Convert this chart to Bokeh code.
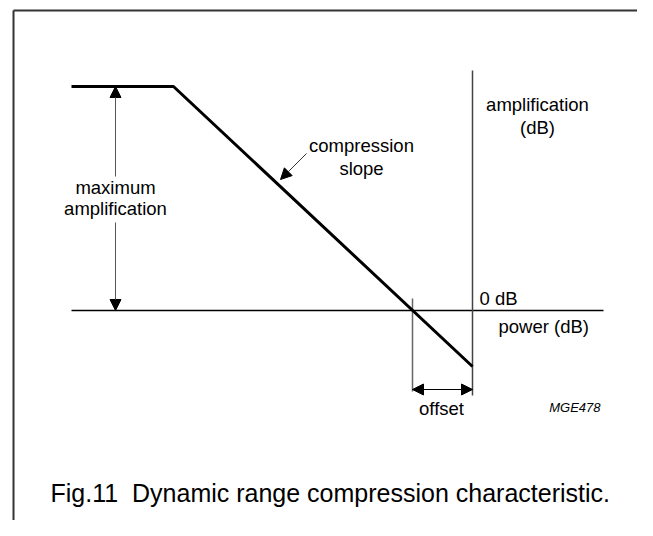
from bokeh.plotting import figure
from bokeh.models import Range1d, Arrow, NormalHead
from bokeh.core.properties import value
from bokeh.embed import file_html
from bokeh.resources import INLINE

# characteristic (power in dB -> amplification in dB), schematic units
curve_power = [-40.1, -29.9, 0.0]
curve_amp = [22.4, 22.4, -5.6]
max_amp = 22.4
offset_db = -6.0
baseline_power = [-40.1, 13.1]
axis_amp = [24.0, -8.5]
offset_line_amp = [1.2, -8.1]
offset_arrow_amp = -7.9
max_arrow_power = -35.7
max_arrow_gap = [13.4, 8.8]
slope_arrow = dict(x0=-16.6, y0=15.7, x1=-19.2, y1=13.1)
border_x = -45.9
border_y = 30.0

X0, X1 = -47.2, 16.5
Y0, Y1 = -21.0, 31.0

FONT = value("Liberation Sans")

p = figure(width=637, height=520, output_backend="svg", toolbar_location=None,
           x_range=Range1d(X0, X1), y_range=Range1d(Y0, Y1),
           x_axis_type=None, y_axis_type=None, min_border=0)
p.grid.visible = False
p.outline_line_color = None
p.background_fill_color = "white"
p.border_fill_color = "white"

# frame border (top and left)
p.line([border_x, X1], [border_y, border_y], line_color="#333333", line_width=2)
p.line([border_x, border_x], [border_y, Y0], line_color="#333333", line_width=2)

# baseline 0 dB
p.line(baseline_power, [0, 0], line_color="black", line_width=1.5)
# vertical amplification axis
p.line([0, 0], axis_amp, line_color="#444444", line_width=1.5)
# offset marker line
p.line([offset_db, offset_db], offset_line_amp, line_color="#666666", line_width=1.5)
# compression characteristic
p.line(curve_power, curve_amp, line_color="black", line_width=3)

def head():
    return NormalHead(size=11, fill_color="black", line_color="black", line_width=1)

# maximum amplification arrows
p.add_layout(Arrow(end=head(), x_start=max_arrow_power, y_start=max_arrow_gap[0],
                   x_end=max_arrow_power, y_end=max_amp, line_color="#555555", line_width=1))
p.add_layout(Arrow(end=head(), x_start=max_arrow_power, y_start=max_arrow_gap[1],
                   x_end=max_arrow_power, y_end=0, line_color="#555555", line_width=1))
# offset double arrow
p.add_layout(Arrow(start=head(), end=head(), x_start=offset_db, y_start=offset_arrow_amp,
                   x_end=0, y_end=offset_arrow_amp, line_color="black", line_width=1))
# compression slope arrow
p.add_layout(Arrow(end=head(), x_start=slope_arrow["x0"], y_start=slope_arrow["y0"],
                   x_end=slope_arrow["x1"], y_end=slope_arrow["y1"], line_color="#333333", line_width=1))

# centred labels
p.text(x=[-11.1, -11.1, -35.7, -35.7, 6.5, 6.5, -3.1],
       y=[16.5, 14.2, 12.3, 10.2, 20.6, 18.3, -9.8],
       text=["compression", "slope", "maximum", "amplification", "amplification", "(dB)", "offset"],
       text_font=FONT, text_font_size="18.5px", text_align="center", text_baseline="middle",
       text_color="black")
# left-aligned labels
p.text(x=[0.7, 2.6], y=[1.2, -1.6], text=["0 dB", "power (dB)"],
       text_font=FONT, text_font_size="18.5px", text_align="left", text_baseline="middle",
       text_color="black")
p.text(x=[12.8], y=[-9.7], text=["MGE478"], text_font=FONT, text_font_size="13px",
       text_font_style="italic", text_align="right", text_baseline="middle", text_color="black")
p.text(x=[-42.2], y=[-18.2], text=["Fig.11\u00a0 Dynamic range compression characteristic."],
       text_font=FONT, text_font_size="25px", text_align="left", text_baseline="middle",
       text_color="black")

open("out.html", "w").write(file_html(p, INLINE))
